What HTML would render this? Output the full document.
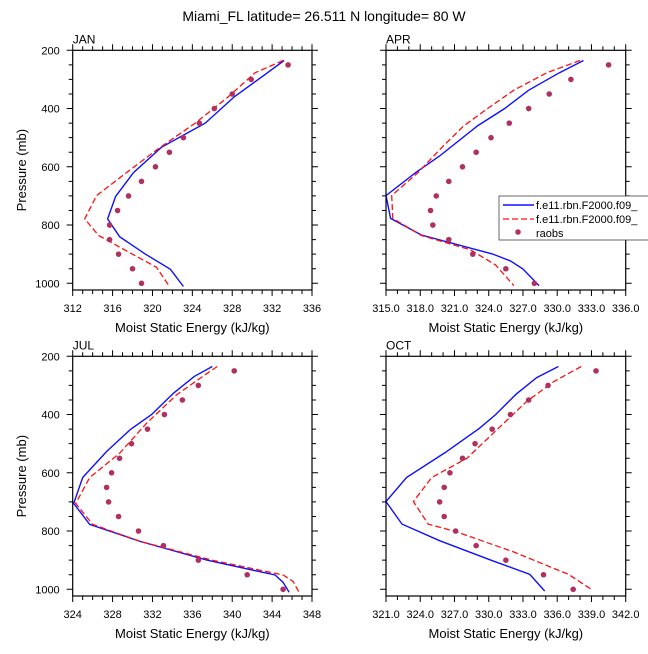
<!DOCTYPE html>
<html><head><meta charset="utf-8"><style>
body{margin:0;background:#fff}
svg text{font-family:"Liberation Sans",Arial,sans-serif;fill:#000}
</style></head><body>
<svg id="chart" width="648" height="649" viewBox="0 0 648 649">
<text x="324" y="21" text-anchor="middle" font-size="14">Miami_FL  latitude= 26.511 N longitude= 80 W</text>
</svg>
<script>
const levels = [250,300,350,400,450,500,550,600,650,700,750,800,850,900,950,1000];
// JAN
const janBlueP = [235,288,360,450,533,620,702,779,840,900,952,1011];
const janBlueV = [333.2,331.1,328.2,325.3,320.9,318.1,316.3,315.5,316.7,319.3,321.8,323.1];
const janRedP = [235,277,360,450,540,620,699,779,836,900,945,1011];
const janRedV = [333.1,330.3,327.6,324.3,320.5,317.4,314.4,313.2,314.6,318.0,320.4,321.7];
const janObs = [333.6,329.9,328.0,326.2,324.7,323.1,321.7,320.3,318.9,317.6,316.5,315.7,315.7,316.6,318.0,318.9];
// APR
const aprBlueP = [235,277,337,400,460,563,620,699,777,834,899,923,951,1008];
const aprBlueV = [332.3,330.2,327.5,325.4,323.0,319.7,317.6,315.0,315.4,318.1,324.3,325.9,327.0,328.4];
const aprRedP = [235,277,337,400,460,529,620,699,777,836,885,937,1008];
const aprRedV = [332.0,329.1,326.2,323.9,321.8,320.0,317.8,315.5,315.6,318.1,322.4,324.6,326.2];
const aprObs = [334.5,331.2,329.3,327.5,325.8,324.2,322.9,321.7,320.5,319.4,318.9,319.1,320.5,322.6,325.5,328.0];
// JUL
const julBlueP = [235,269,327,400,451,527,616,705,777,836,900,951,976,1010];
const julBlueV = [338.0,336.2,334.1,331.9,329.8,327.4,325.0,324.1,325.7,330.8,337.5,344.3,345.1,345.7];
const julRedP = [235,275,333,430,533,616,705,777,836,900,951,973,1010];
const julRedV = [338.5,336.8,334.4,331.4,328.7,325.7,324.3,326.0,330.8,338.0,345.1,346.1,346.7];
const julObs = [340.2,336.6,335.0,333.2,331.5,329.9,328.7,327.9,327.4,327.6,328.6,330.6,333.1,336.6,341.5,345.1];
// OCT
const octBlueP = [235,273,330,400,447,530,616,699,776,833,900,949,1006];
const octBlueV = [336.1,334.2,332.4,330.6,329.2,326.2,322.8,321.0,322.4,325.7,330.2,333.6,334.9];
const octRedP = [235,287,356,464,550,616,699,776,803,872,949,1003];
const octRedV = [338.1,335.7,333.3,330.4,328.1,325.0,323.4,324.7,327.2,332.2,337.0,339.1];
const octObs = [339.4,335.2,333.5,331.9,330.3,328.8,327.7,326.6,326.1,325.7,326.1,327.1,328.9,331.5,334.8,337.4];
const yTicks = [200,400,600,800,1000];

const svg = document.getElementById('chart');
const NS = 'http://www.w3.org/2000/svg';
function mk(tag, attrs){ const e=document.createElementNS(NS,tag); for(const k in attrs) e.setAttribute(k,attrs[k]); svg.appendChild(e); return e; }

const panels = [
 {name:'jan',label:'JAN',x0:72.7,x1:312,y0:50.3,y1:290,xmin:312,xmax:336,xstep:4,xminor:1,dec:0,ylab:true,
  bp:janBlueP,bv:janBlueV,rp:janRedP,rv:janRedV,obs:janObs},
 {name:'apr',label:'APR',x0:386,x1:625.7,y0:50.3,y1:290,xmin:315,xmax:336,xstep:3,xminor:1,dec:1,ylab:false,
  bp:aprBlueP,bv:aprBlueV,rp:aprRedP,rv:aprRedV,obs:aprObs},
 {name:'jul',label:'JUL',x0:72.7,x1:312,y0:356.3,y1:596,xmin:324,xmax:348,xstep:4,xminor:1,dec:0,ylab:true,
  bp:julBlueP,bv:julBlueV,rp:julRedP,rv:julRedV,obs:julObs},
 {name:'oct',label:'OCT',x0:386,x1:625.7,y0:356.3,y1:596,xmin:321,xmax:342,xstep:3,xminor:1,dec:1,ylab:false,
  bp:octBlueP,bv:octBlueV,rp:octRedP,rv:octRedV,obs:octObs}
];

panels.forEach(P=>{
  const pmax = 200 + (P.y1-P.y0)/(233/800);
  const sx = v => P.x0 + (v-P.xmin)/(P.xmax-P.xmin)*(P.x1-P.x0);
  const sy = p => P.y0 + (p-200)/(pmax-200)*(P.y1-P.y0);
  let d='';
  for(let v=P.xmin; v<=P.xmax+1e-6; v+=P.xminor){
    const major = Math.abs(((v-P.xmin)/P.xstep)-Math.round((v-P.xmin)/P.xstep))<1e-6;
    const L = major?6:4;
    const x=sx(v);
    d+=`M${x},${P.y1}V${P.y1+L}M${x},${P.y0}V${P.y0-L}`;
    if(major){
      const t=mk('text',{x:x,y:P.y1+22,'text-anchor':'middle','font-size':'11'});
      t.textContent = v.toFixed(P.dec);
      
      
    }
  }
  for(let p=200; p<=1000; p+=50){
    const major = p%200===0;
    const L = major?6:4;
    const y=sy(p);
    d+=`M${P.x0},${y}H${P.x0-L}M${P.x1},${y}H${P.x1+L}`;
  }
  const tk=mk('path',{d:d,stroke:'#000','stroke-width':'1',fill:'none'});
  
  
  if(P.ylab){
    yTicks.forEach(p=>{
      const t=mk('text',{x:P.x0-13,y:sy(p)+4,'text-anchor':'end','font-size':'11'});
      t.textContent=p;
      
      
    });
    const yc=(P.y0+P.y1)/2;
    const t=mk('text',{x:26,y:yc,'text-anchor':'middle','font-size':'13',transform:`rotate(-90 26 ${yc})`});
    t.textContent='Pressure (mb)';
    
    
  }
  const xt=mk('text',{x:(P.x0+P.x1)/2,y:P.y1+42,'text-anchor':'middle','font-size':'13'});
  xt.textContent='Moist Static Energy (kJ/kg)';
  
  
  const lb=mk('text',{x:P.x0,y:P.y0-7,'font-size':'12'});
  lb.textContent=P.label;
  
  
  const pts=(ps,vs)=>ps.map((p,i)=>sx(vs[i]).toFixed(1)+','+sy(p).toFixed(1)).join(' ');
  const bl=mk('polyline',{points:pts(P.bp,P.bv),fill:'none',stroke:'#1010ff','stroke-width':'1.4'});
  
  
  const rl=mk('polyline',{points:pts(P.rp,P.rv),fill:'none',stroke:'#ff1010','stroke-width':'1.3','stroke-dasharray':'6,3'});
  
  
  P.obs.forEach((v,i)=>{
    const c=mk('circle',{cx:sx(v),cy:sy(levels[i]),r:'2.8',fill:'#b03060'});
    
    
  });
  const fr=mk('rect',{x:P.x0,y:P.y0,width:P.x1-P.x0,height:P.y1-P.y0,fill:'none',stroke:'#000','stroke-width':'1.2'});
  
  
});

const lg=mk('rect',{x:499,y:196,width:160,height:44,fill:'#fff',stroke:'#444','stroke-width':'0.8'});


const l1=mk('line',{x1:503,y1:205,x2:534,y2:205,stroke:'#1010ff','stroke-width':'1.4'});


const l2=mk('line',{x1:503,y1:219,x2:534,y2:219,stroke:'#ff1010','stroke-width':'1.3','stroke-dasharray':'6,3'});


const l3=mk('circle',{cx:518,cy:232,r:'2.8',fill:'#b03060'});


[['f.e11.rbn.F2000.f09_',209],['f.e11.rbn.F2000.f09_',223],['raobs',237]].forEach((e,i)=>{
  const t=mk('text',{x:536,y:e[1],'font-size':'11'});
  t.textContent=e[0];
  
  
});
</script>
</body></html>
